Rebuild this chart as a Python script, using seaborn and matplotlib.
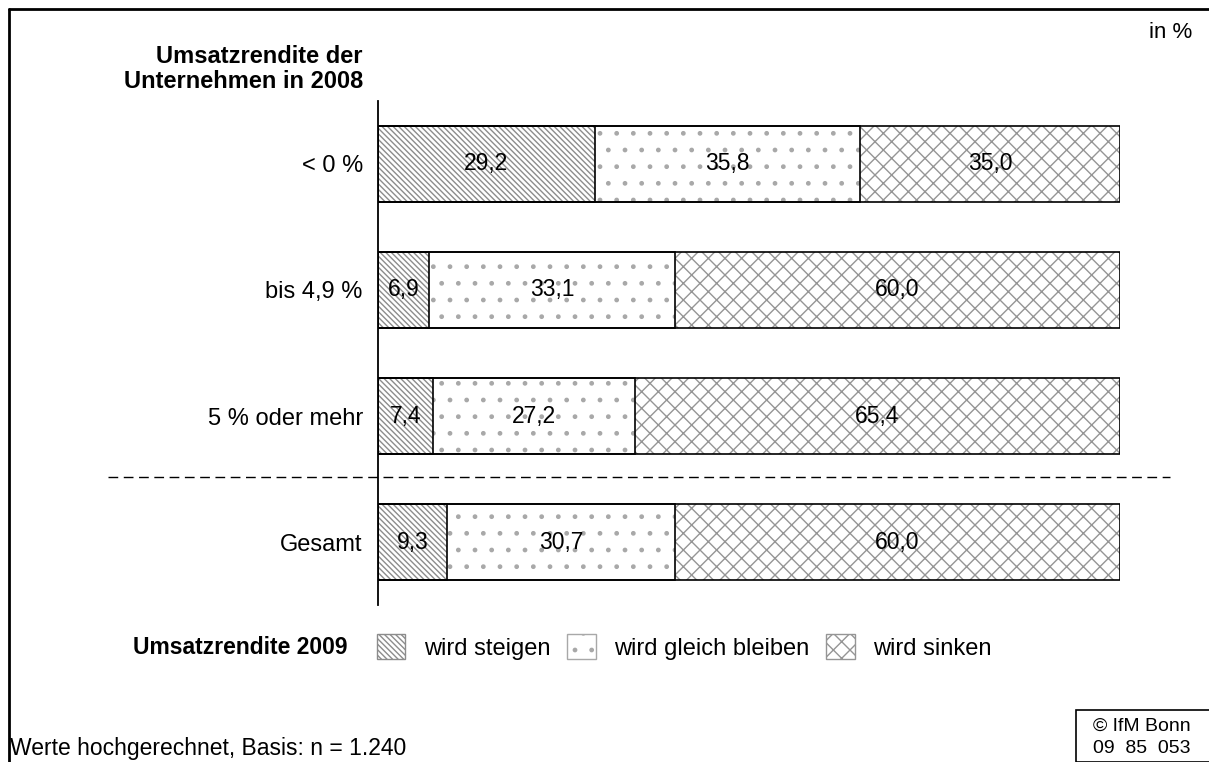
import pandas as pd
import matplotlib.pyplot as plt
import matplotlib.patches as mpatches
from matplotlib.lines import Line2D
import seaborn as sns

# Daten
kategorien = ["< 0 %", "bis 4,9 %", "5 % oder mehr", "Gesamt"]
steigen = [29.2, 6.9, 7.4, 9.3]
gleich = [35.8, 33.1, 27.2, 30.7]
sinken = [35.0, 60.0, 65.4, 60.0]
serien = ["wird steigen", "wird gleich bleiben", "wird sinken"]

sns.set_style("white")
plt.rcParams['font.family'] = ['Liberation Sans', 'DejaVu Sans']
plt.rcParams['hatch.linewidth'] = 1.0
plt.rcParams['text.color'] = 'black'
plt.rcParams['ytick.color'] = 'black'

df = pd.DataFrame({"kat": kategorien, "steigen": steigen, "gleich": gleich, "sinken": sinken})
df["c1"] = df["steigen"]
df["c2"] = df["steigen"] + df["gleich"]
df["c3"] = df["c2"] + df["sinken"]

fig = plt.figure(figsize=(12.09, 7.62), dpi=100)
ax = fig.add_axes([0.3127, 0.206, 0.6137, 0.6615])

muster = ["\\\\\\\\\\\\", ".", "xx"]
farben = ["#8c8c8c", "#a8a8a8", "#959595"]
spalten = ["c1", "c2", "c3"]

# Schichten von hinten nach vorne (kumulativ)
for sp, h, f in zip(spalten[::-1], muster[::-1], farben[::-1]):
    sns.barplot(data=df, x=sp, y="kat", orient="h", color="white", saturation=1,
                edgecolor=f, hatch=h, linewidth=0, width=0.6, ax=ax)
for sp in spalten[::-1]:
    sns.barplot(data=df, x=sp, y="kat", orient="h", fill=False, saturation=1,
                edgecolor="black", linewidth=1.2, width=0.6, ax=ax)

# Werte beschriften
for i, row in df.iterrows():
    lefts = [0, row["c1"], row["c2"]]
    vals = [row["steigen"], row["gleich"], row["sinken"]]
    for l, v in zip(lefts, vals):
        ax.text(l + v / 2, i, f"{v:.1f}".replace(".", ","), ha="center", va="center",
                fontsize=16.5, color="black")

ax.set_xlim(0, 100)
ax.set_ylim(3.5, -0.5)
ax.set_xlabel("")
ax.set_ylabel("")
ax.set_xticks([])
for s in ["top", "right", "bottom"]:
    ax.spines[s].set_visible(False)
ax.spines["left"].set_color("black")
ax.spines["left"].set_linewidth(1.3)
ax.tick_params(axis="y", length=0, pad=11, labelsize=17, labelcolor="black")

# Rahmen
fig.add_artist(Line2D([9 / 1209, 1], [1 - 9 / 762, 1 - 9 / 762], color="black", lw=2))
fig.add_artist(Line2D([9 / 1209, 9 / 1209], [0, 1 - 9 / 762], color="black", lw=2))

# gestrichelte Trennlinie
fig.add_artist(Line2D([108 / 1209, 1170 / 1209], [1 - 477 / 762, 1 - 477 / 762],
                      color="black", lw=1, linestyle=(0, (7, 4))))

# Texte
fig.text(363 / 1209, 1 - 69 / 762, "Umsatzrendite der\nUnternehmen in 2008", ha="right",
         va="center", fontsize=17, fontweight="bold", multialignment="right", linespacing=1.15)
fig.text(1192 / 1209, 1 - 33 / 762, "in %", ha="right", va="center", fontsize=16)
fig.text(133 / 1209, 1 - 647 / 762, "Umsatzrendite 2009", ha="left", va="center",
         fontsize=16.5, fontweight="bold")
fig.text(10 / 1209, 1 - 748 / 762, "Werte hochgerechnet, Basis: n = 1.240", ha="left",
         va="center", fontsize=16.5)

# Legende
handles = [mpatches.Patch(facecolor="white", edgecolor=f, hatch=h, lw=1)
           for h, f in zip(muster, farben)]
fig.legend(handles, serien, loc="center left", bbox_to_anchor=(377 / 1209, 1 - 647 / 762),
           ncol=3, frameon=False, fontsize=17, handlelength=1.2, handleheight=1.2,
           handletextpad=0.8, columnspacing=0.7, borderaxespad=0, borderpad=0)

# Quellenbox
fig.add_artist(mpatches.Rectangle((1076 / 1209, 0), 0.2, 52 / 762, transform=fig.transFigure,
                                  facecolor="white", edgecolor="black", lw=1.2))
fig.text(1093 / 1209, 1 - 737 / 762, "© IfM Bonn\n09  85  053", ha="left", va="center",
         fontsize=14, linespacing=1.4)

fig.savefig("out.png", dpi=100)
